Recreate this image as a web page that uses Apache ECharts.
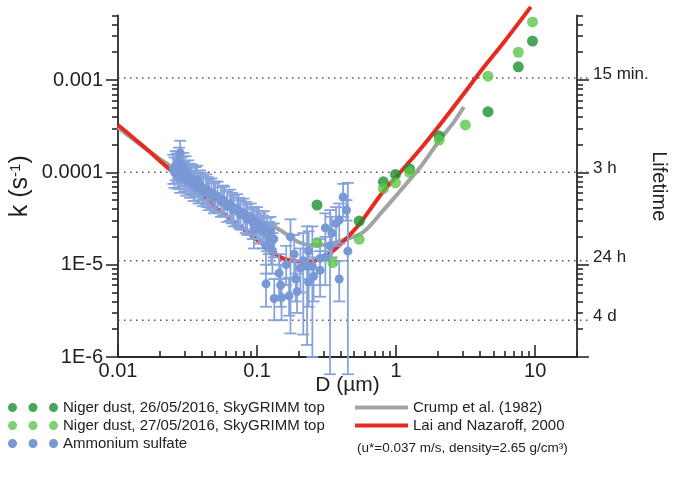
<!DOCTYPE html>
<html><head><meta charset="utf-8">
<script src="https://cdn.jsdelivr.net/npm/echarts@6/dist/echarts.min.js"></script>
<style>html,body{margin:0;padding:0;background:#fff}#c{width:677px;height:483px}</style>
</head><body><div id="c"></div>
<script>
// ---- tick values / labels ----
const xMajor = [0.01, 0.1, 1, 10];
const xLabels = ['0.01', '0.1', '1', '10'];
const xMinor = [0.02,0.03,0.04,0.05,0.06,0.07,0.08,0.09,0.2,0.3,0.4,0.5,0.6,0.7,0.8,0.9,2,3,4,5,6,7,8,9,20];
const yMajor = [1e-6, 1e-5, 1e-4, 1e-3];
const yLabels = ['1E-6', '1E-5', '0.0001', '0.001'];
const yMinor = [2e-6,3e-6,4e-6,5e-6,6e-6,7e-6,8e-6,9e-6,2e-5,3e-5,4e-5,5e-5,6e-5,7e-5,8e-5,9e-5,2e-4,3e-4,4e-4,5e-4,6e-4,7e-4,8e-4,9e-4,2e-3,3e-3,4e-3,5e-3];
const lifeK = [1.05e-3, 1.0e-4, 1.1e-5, 2.5e-6];
const lifeLabels = ['15 min.', '3 h', '24 h', '4 d'];

// ---- model curves ----
const crumpD = [0.01, 0.02, 0.04, 0.065, 0.1, 0.148, 0.2, 0.25, 0.32, 0.42, 0.58, 0.8, 1.06, 1.5, 2.04, 2.6, 3.07];
const crumpK = [3.05e-4, 1.4e-4, 7.2e-5, 4.6e-5, 3.2e-5, 2.35e-5, 1.75e-5, 1.62e-5, 1.66e-5, 1.85e-5, 2.25e-5, 3.8e-5, 6.2e-5, 1.15e-4, 2.2e-4, 3.5e-4, 5.1e-4];
const laiD = [0.01, 0.015, 0.0238, 0.034, 0.05, 0.075, 0.116, 0.148, 0.18, 0.22, 0.27, 0.34, 0.45, 0.55, 0.8, 1.0, 1.5, 2.04, 3.0, 4.15, 6.0, 9.31];
const laiK = [3.26e-4, 1.95e-4, 1.06e-4, 6.7e-5, 4.2e-5, 2.6e-5, 1.57e-5, 1.2e-5, 1.1e-5, 1.08e-5, 1.12e-5, 1.35e-5, 2.0e-5, 2.8e-5, 6.1e-5, 8.9e-5, 1.8e-4, 3.2e-4, 6.8e-4, 1.3e-3, 2.6e-3, 6.2e-3];

// ---- Niger dust ----
const dust26D = [0.27, 0.543, 0.81, 0.99, 1.25, 2.04, 4.58, 7.57, 9.57];
const dust26K = [4.43e-5, 2.97e-5, 7.9e-5, 9.5e-5, 1.09e-4, 2.47e-4, 4.54e-4, 1.39e-3, 2.64e-3];
const dust27D = [0.27, 0.351, 0.543, 0.81, 0.99, 1.25, 2.04, 3.15, 4.58, 7.57, 9.57];
const dust27K = [1.73e-5, 1.05e-5, 1.88e-5, 6.7e-5, 7.7e-5, 1.0e-4, 2.24e-4, 3.26e-4, 1.1e-3, 2.0e-3, 4.26e-3];

// ---- Ammonium sulfate (value, lower, upper) ----
const asD = [0.025,0.0255,0.026,0.0265,0.027,0.0275,0.028,0.028,0.029,0.0295,0.030,0.0305,0.031,0.032,0.0325,0.033,0.034,0.035,0.036,0.037,0.038,0.039,0.040,0.041,0.043,0.044,0.045,0.047,0.049,0.050,0.052,0.055,0.057,0.058,0.061,0.064,0.066,0.068,0.072,0.074,0.076,0.080,0.083,0.085,0.090,0.093,0.095,0.100,0.103,0.106,0.110,0.112,0.118,0.122,0.125,0.132,
  0.095,0.116,0.126,0.129,0.116,0.133,0.144,0.148,0.150,0.162,0.170,0.174,0.185,0.190,0.194,0.205,0.215,0.229,0.235,0.235,0.250,0.255,0.284,0.284,0.310,0.310,0.335,0.345,0.370,0.390,0.390,0.416,0.440,0.450];
const asK = [1.08e-4,1.0e-4,1.18e-4,1.12e-4,9.6e-5,1.3e-4,1.62e-4,8.8e-5,1.02e-4,1.15e-4,9.0e-5,1.05e-4,8.2e-5,9.4e-5,8.6e-5,7.8e-5,8.5e-5,7.2e-5,7.9e-5,8.2e-5,6.8e-5,7.3e-5,6.9e-5,6.3e-5,6.6e-5,6.2e-5,5.8e-5,6.0e-5,5.3e-5,5.6e-5,5.5e-5,4.8e-5,5.0e-5,4.9e-5,4.3e-5,4.5e-5,4.2e-5,3.9e-5,4.0e-5,3.7e-5,3.5e-5,3.6e-5,3.3e-5,3.1e-5,3.2e-5,2.9e-5,2.8e-5,2.9e-5,2.6e-5,2.5e-5,2.3e-5,2.6e-5,2.2e-5,2.0e-5,2.3e-5,1.9e-5,
  2.37e-5,1.6e-5,1.7e-5,1.4e-5,6.2e-6,4.3e-6,8.1e-6,6.0e-6,4.4e-6,1.0e-5,4.6e-6,2.0e-5,1.3e-5,7.0e-6,5.1e-6,9.2e-6,1.1e-5,9.6e-6,1.4e-5,6.5e-6,9.6e-6,7.5e-6,8.7e-6,1.17e-5,1.2e-5,2.5e-5,1.6e-5,2.2e-5,2.8e-5,3.05e-5,7.0e-6,5.4e-5,3.9e-5,1.4e-5];
const asLo = [7.5e-5,6.8e-5,8.2e-5,7.6e-5,6.6e-5,9.0e-5,1.12e-4,6.0e-5,7.0e-5,7.8e-5,6.2e-5,7.2e-5,5.6e-5,6.5e-5,5.9e-5,5.3e-5,5.8e-5,4.9e-5,5.4e-5,5.6e-5,4.6e-5,5.0e-5,4.7e-5,4.3e-5,4.5e-5,4.2e-5,3.9e-5,4.1e-5,3.6e-5,3.8e-5,3.7e-5,3.3e-5,3.4e-5,3.3e-5,2.9e-5,3.0e-5,2.8e-5,2.6e-5,2.7e-5,2.5e-5,2.4e-5,2.4e-5,2.2e-5,2.1e-5,2.1e-5,1.9e-5,1.9e-5,1.9e-5,1.7e-5,1.7e-5,1.5e-5,1.7e-5,1.4e-5,1.3e-5,1.5e-5,1.2e-5,
  1.5e-5,8e-6,1.0e-5,8e-6,3.5e-6,2.5e-6,4.5e-6,3.5e-6,2.5e-6,6e-6,2.8e-6,1.8e-6,7e-6,4e-6,3e-6,5e-6,1.75e-6,1.35e-6,7e-6,3.5e-6,1.0e-6,4e-6,4.5e-6,6e-6,6e-6,1.4e-5,6.5e-7,1.2e-5,1.6e-5,1.7e-5,4e-6,3.3e-5,3.0e-5,6.5e-7];
const asHi = [1.55e-4,1.45e-4,1.7e-4,1.6e-4,1.38e-4,1.85e-4,2.2e-4,1.27e-4,1.47e-4,1.62e-4,1.3e-4,1.5e-4,1.18e-4,1.35e-4,1.24e-4,1.12e-4,1.22e-4,1.04e-4,1.14e-4,1.18e-4,9.8e-5,1.05e-4,9.9e-5,9.1e-5,9.5e-5,8.9e-5,8.4e-5,8.6e-5,7.6e-5,8.0e-5,7.9e-5,6.9e-5,7.2e-5,7.0e-5,6.2e-5,6.5e-5,6.0e-5,5.6e-5,5.8e-5,5.3e-5,5.0e-5,5.2e-5,4.8e-5,4.5e-5,4.6e-5,4.2e-5,4.0e-5,4.2e-5,3.8e-5,3.6e-5,3.4e-5,3.8e-5,3.2e-5,2.9e-5,3.3e-5,2.8e-5,
  3.4e-5,2.6e-5,2.7e-5,2.2e-5,1.0e-5,7e-6,1.3e-5,1.0e-5,7e-6,1.6e-5,7.2e-6,3.1e-5,2.1e-5,1.1e-5,8e-6,1.5e-5,2.2e-5,2.6e-5,2.3e-5,1.0e-5,2.6e-5,1.2e-5,1.4e-5,1.9e-5,2.0e-5,3.6e-5,3.9e-5,3.3e-5,4.2e-5,4.6e-5,1.1e-5,7.5e-5,5.0e-5,7.7e-5];

const FONT = '"Liberation Sans", Arial, sans-serif';
const AX = '#2a2a2a';
const BLUE = '#7898d6';
const BAR = '#86a3dc';
const DARKG = '#1b8f30';
const LIGHTG = '#5cc64c';
const RED = '#e52a20';
const GRAY = '#a3a3a3';

const zip = (a, b) => a.map((v, i) => [v, b[i]]);
const lookup = (vals, labels) => v => { const i = vals.findIndex(t => Math.abs(Math.log10(t) - Math.log10(v)) < 1e-6); return i >= 0 ? labels[i] : ''; };

const logBase = (extra) => Object.assign({
  type: 'log', logBase: 10, splitLine: { show: false }, minorTick: { show: false }, minorSplitLine: { show: false }, nameMoveOverlap: false
}, extra);
const tickStyle = { color: AX, width: 1.6 };

const xAxes = [
  logBase({ min: 0.01, max: 20, position: 'bottom',
    axisLine: { show: true, lineStyle: { color: AX, width: 1.8 } },
    axisTick: { show: true, inside: true, length: 12, customValues: xMajor, lineStyle: tickStyle },
    axisLabel: { show: true, customValues: xMajor, formatter: lookup(xMajor, xLabels), fontFamily: FONT, fontSize: 20, color: '#222', margin: 4 },
    name: 'D (µm)', nameLocation: 'middle', nameGap: 18, nameTextStyle: { fontFamily: FONT, fontSize: 21, color: '#222' } }),
  logBase({ min: 0.01, max: 20, position: 'bottom',
    axisLine: { show: false },
    axisTick: { show: true, inside: true, length: 6, customValues: xMinor, lineStyle: tickStyle },
    axisLabel: { show: false } })
];
const yRange = { min: 1e-6, max: 5e-3 };
const yAxes = [
  logBase(Object.assign({ position: 'left',
    axisLine: { show: true, lineStyle: { color: AX, width: 1.8 } },
    axisTick: { show: true, inside: false, length: 12, customValues: yMajor, lineStyle: tickStyle },
    axisLabel: { show: true, customValues: yMajor, formatter: lookup(yMajor, yLabels), fontFamily: FONT, fontSize: 20, color: '#222', margin: 15 },
    name: 'k (s{sup|-1})', nameLocation: 'middle', nameRotate: 90, nameGap: 85,
    nameTextStyle: { fontFamily: FONT, fontSize: 25, color: '#222', rich: { sup: { fontFamily: FONT, fontSize: 15, color: '#222', verticalAlign: 'top', lineHeight: 25 } } } }, yRange)),
  logBase(Object.assign({ position: 'left',
    axisLine: { show: false },
    axisTick: { show: true, inside: false, length: 6, customValues: yMinor, lineStyle: tickStyle },
    axisLabel: { show: false } }, yRange)),
  logBase(Object.assign({ position: 'right',
    axisLine: { show: true, lineStyle: { color: AX, width: 1.8 } },
    axisTick: { show: true, inside: false, length: 12, customValues: yMajor, lineStyle: tickStyle },
    axisLabel: { show: false },
    name: 'Lifetime', nameLocation: 'middle', nameRotate: -90, nameGap: 72, nameTextStyle: { fontFamily: FONT, fontSize: 20, color: '#222' } }, yRange)),
  logBase(Object.assign({ position: 'right',
    axisLine: { show: false },
    axisTick: { show: true, inside: false, length: 6, customValues: yMinor, lineStyle: tickStyle },
    axisLabel: { show: false } }, yRange))
];

const dots3 = 'path://M0,4.5a4.5,4.5 0 1,0 9,0a4.5,4.5 0 1,0 -9,0Z M20.5,4.5a4.5,4.5 0 1,0 9,0a4.5,4.5 0 1,0 -9,0Z M41,4.5a4.5,4.5 0 1,0 9,0a4.5,4.5 0 1,0 -9,0Z';

const option = {
  animation: false,
  backgroundColor: '#fff',
  grid: { left: 115.5, right: 98, top: 15.5, bottom: 126, containLabel: false },
  xAxis: xAxes,
  yAxis: yAxes,
  legend: [
    { orient: 'vertical', left: 8, top: 400, padding: 0, itemWidth: 50, itemHeight: 9, itemGap: 3, selectedMode: false,
      icon: dots3, textStyle: { fontFamily: FONT, fontSize: 15, color: '#222' },
      data: ['Niger dust, 26/05/2016, SkyGRIMM top', 'Niger dust, 27/05/2016, SkyGRIMM top', 'Ammonium sulfate'] },
    { orient: 'vertical', left: 355, top: 400, padding: 0, itemWidth: 53, itemHeight: 4, itemGap: 3, selectedMode: false,
      icon: 'rect', textStyle: { fontFamily: FONT, fontSize: 15, color: '#222' },
      data: ['Crump et al. (1982)', 'Lai and Nazaroff, 2000'] }
  ],
  graphic: [
    { type: 'text', left: 357, top: 441, style: { text: '(u*=0.037 m/s, density=2.65 g/cm³)', font: '13.5px ' + FONT, fill: '#222' } }
  ],
  series: [
    { type: 'custom', name: 'lifetime', clip: false, silent: true, z: 1,
      data: lifeK.map((v, i) => [20, v, i]),
      encode: { x: 0, y: 1 },
      renderItem: function (params, api) {
        const v = api.value(1);
        const i = api.value(2);
        const a = api.coord([0.01, v]);
        const b = api.coord([api.value(0), v]);
        return { type: 'group', children: [
          { type: 'line', shape: { x1: a[0], y1: a[1], x2: b[0] + 11, y2: b[1] }, style: { stroke: '#555', lineWidth: 1.5, lineDash: [1.5, 4.5] } },
          { type: 'text', x: b[0] + 16, y: b[1] - 4, style: { text: lifeLabels[i], font: '17px ' + FONT, fill: '#222', verticalAlign: 'middle', align: 'left' } }
        ] };
      } },
    { type: 'line', name: 'Crump et al. (1982)', data: zip(crumpD, crumpK), symbol: 'none', smooth: 0.3, clip: false, z: 2,
      color: GRAY, lineStyle: { color: GRAY, width: 4 } },
    { type: 'line', name: 'Lai and Nazaroff, 2000', data: zip(laiD, laiK), symbol: 'none', smooth: 0.3, clip: false, z: 2,
      color: RED, lineStyle: { color: RED, width: 4 } },
    { type: 'custom', name: 'asErr', clip: false, silent: true, z: 3,
      data: asD.map((d, i) => [d, asLo[i], asHi[i]]),
      encode: { x: 0, y: [1, 2] },
      renderItem: function (params, api) {
        const x = api.value(0);
        const p1 = api.coord([x, api.value(1)]);
        const p2 = api.coord([x, api.value(2)]);
        const w = 6;
        const st = { stroke: BAR, lineWidth: 1.8 };
        return { type: 'group', children: [
          { type: 'line', shape: { x1: p1[0], y1: p1[1], x2: p2[0], y2: p2[1] }, style: st },
          { type: 'line', shape: { x1: p1[0] - w, y1: p1[1], x2: p1[0] + w, y2: p1[1] }, style: st },
          { type: 'line', shape: { x1: p2[0] - w, y1: p2[1], x2: p2[0] + w, y2: p2[1] }, style: st }
        ] };
      } },
    { type: 'scatter', name: 'Ammonium sulfate', data: zip(asD, asK), symbol: 'circle', symbolSize: 9, z: 4,
      color: BLUE, itemStyle: { color: BLUE, opacity: 1 } },
    { type: 'scatter', name: 'Niger dust, 26/05/2016, SkyGRIMM top', data: zip(dust26D, dust26K), symbol: 'circle', symbolSize: 11, z: 5,
      color: DARKG, itemStyle: { color: DARKG } },
    { type: 'scatter', name: 'Niger dust, 27/05/2016, SkyGRIMM top', data: zip(dust27D, dust27K), symbol: 'circle', symbolSize: 11, z: 6,
      color: LIGHTG, itemStyle: { color: LIGHTG } }
  ]
};

const chart = echarts.init(document.getElementById('c'), null, { renderer: 'canvas' });
chart.setOption(option);
</script>
</body></html>
